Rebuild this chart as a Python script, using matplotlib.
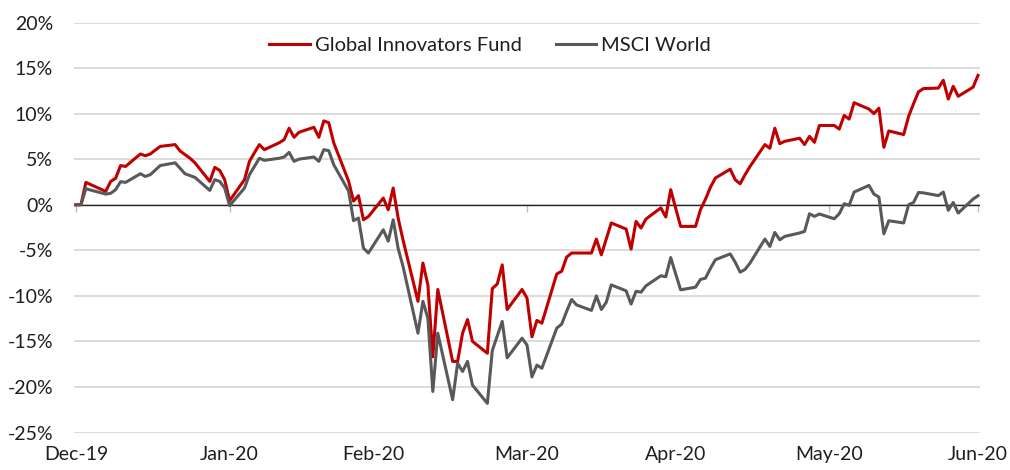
import numpy as np
import matplotlib.pyplot as plt
import matplotlib.dates as mdates
import matplotlib.ticker as mticker
import pandas as pd

plt.rcParams['font.family'] = ['Lato', 'DejaVu Sans']

# Datos: rentabilidad acumulada (%) desde 31-dic-2019, dias habiles
fechas = pd.bdate_range('2019-12-31', '2020-06-30')

fondo = [
    0.0,
    # ene
    0.0, 2.45, 2.2, 1.46, 2.56, 2.9, 4.3, 4.2, 5.57, 5.38, 5.57, 6.0, 6.4, 6.6,
    5.9, 5.5, 5.1, 4.6, 2.56, 4.1, 3.77, 2.75, 0.44,
    # feb
    2.75, 4.76, 5.7, 6.6, 6.04, 6.8, 7.14, 8.4, 7.4, 7.95, 8.5, 7.4, 9.2, 9.0,
    6.8, 2.6, 0.4, 1.0, -1.65, -1.3,
    # mar
    0.73, -0.55, 1.83, -1.46, -3.9, -10.6, -6.4, -8.8, -16.7, -9.3, -17.2,
    -17.2, -14.1, -12.6, -15.0, -16.3, -9.2, -8.7, -6.6, -11.5, -9.3, -10.25,
    # abr
    -14.5, -12.7, -13.0, -7.6, -7.3, -5.75, -5.3, -5.3, -5.3, -3.77, -5.5,
    -3.75, -2.0, -2.67, -4.87, -1.83, -2.56, -1.57, -0.35, -1.35, 1.65, -0.4,
    # may
    -2.38, -2.38, -0.55, 0.6, 1.9, 2.93, 3.9, 2.75, 2.3, 3.3, 4.2, 6.6, 6.2,
    8.4, 6.7, 6.96, 7.3, 6.6, 7.5, 6.85, 8.7,
    # jun
    8.7, 8.3, 9.8, 9.4, 11.2, 10.5, 10.0, 10.6, 6.3, 8.1, 7.7, 9.7, 11.1, 12.4,
    12.75, 12.8, 13.66, 11.6, 13.0, 11.9, 12.9, 14.2,
]

msci = [
    0.0,
    # ene
    0.0, 1.76, 1.6, 1.17, 1.25, 1.65, 2.53, 2.45, 3.4, 3.1, 3.3, 3.8, 4.3, 4.6,
    4.0, 3.4, 3.2, 3.0, 1.57, 2.75, 2.56, 1.83, -0.1,
    # feb
    1.83, 3.3, 4.2, 5.1, 4.87, 5.1, 5.24, 5.75, 4.76, 5.0, 5.24, 4.76, 6.04,
    5.93, 4.4, 1.5, -1.75, -1.46, -4.76, -5.3,
    # mar
    -2.75, -4.0, -1.65, -4.8, -6.8, -14.1, -10.6, -12.45, -20.5, -14.1, -21.4,
    -17.4, -18.3, -17.2, -19.8, -21.8, -16.0, -14.4, -12.8, -16.8, -14.65, -15.4,
    # abr
    -18.9, -17.6, -17.95, -13.55, -13.1, -11.7, -10.4, -11.0, -11.6, -10.0,
    -11.5, -10.7, -8.8, -9.45, -10.9, -9.5, -9.6, -8.9, -7.8, -7.9, -5.8, -7.6,
    # may
    -9.34, -9.05, -8.2, -8.06, -7.0, -6.04, -5.4, -6.3, -7.4, -7.1, -6.4,
    -3.77, -4.58, -3.04, -3.85, -3.48, -3.1, -2.93, -0.99, -1.28, -1.02,
    # jun
    -1.54, -0.99, 0.11, -0.07, 1.39, 2.12, 1.17, 0.84, -3.2, -1.76, -2.0, 0.0,
    0.25, 1.35, 1.3, 1.0, 1.39, -0.62, 0.25, -0.92, 0.62, 0.99,
]

fin_de_mes = pd.to_datetime(['2019-12-31', '2020-01-31', '2020-02-29', '2020-03-31',
                             '2020-04-30', '2020-05-31', '2020-06-30'])

x = mdates.date2num(fechas)
x_ticks = mdates.date2num(fin_de_mes)

fig = plt.figure(figsize=(10.1, 4.7), dpi=100)
ax = fig.add_axes([74 / 1010, 1 - 432.5 / 470, 906 / 1010, 410 / 470])

ax.plot(x, fondo, color='#C00000', lw=2.2, zorder=3, label='Global Innovators Fund')
ax.plot(x, msci, color='#595959', lw=2.2, zorder=3, label='MSCI World')

ax.set_ylim(-25, 20)
ax.set_yticks(np.arange(-25, 21, 5))
ax.yaxis.set_major_formatter(mticker.FuncFormatter(lambda v, p: f'{v:.0f}%'))
ax.grid(axis='y', color='#d9d9d9', lw=1.3, zorder=0)
ax.axhline(0, color='#262626', lw=1, zorder=2)
for s in ax.spines.values():
    s.set_visible(False)

ax.set_xlim(x[0] - 0.4, x[-1] + 0.4)
ax.set_xticks(x_ticks)
ax.xaxis.set_major_formatter(mdates.DateFormatter('%b-%y'))
ax.tick_params(axis='both', length=0, labelsize=14, colors='#1f1f1f')
ax.tick_params(axis='y', pad=15)
ax.tick_params(axis='x', pad=10)

# marcas de los meses sobre la linea del 0
pos_cero = (0 - ax.get_ylim()[0]) / (ax.get_ylim()[1] - ax.get_ylim()[0])
sec = ax.secondary_xaxis(pos_cero)
sec.set_alignment('bottom')
sec.set_xticks(x_ticks)
sec.tick_params(direction='out', length=5, width=1, color='#bfbfbf', labelbottom=False, labeltop=False)
for s in sec.spines.values():
    s.set_visible(False)

ax.legend(loc='center', bbox_to_anchor=(490 / 1010, 1 - 45 / 470), bbox_transform=fig.transFigure,
          ncol=2, frameon=False, fontsize=14.5, handlelength=2.0, handletextpad=0.25,
          columnspacing=1.7, labelcolor='#1f1f1f')

fig.savefig('out.png', dpi=100)
